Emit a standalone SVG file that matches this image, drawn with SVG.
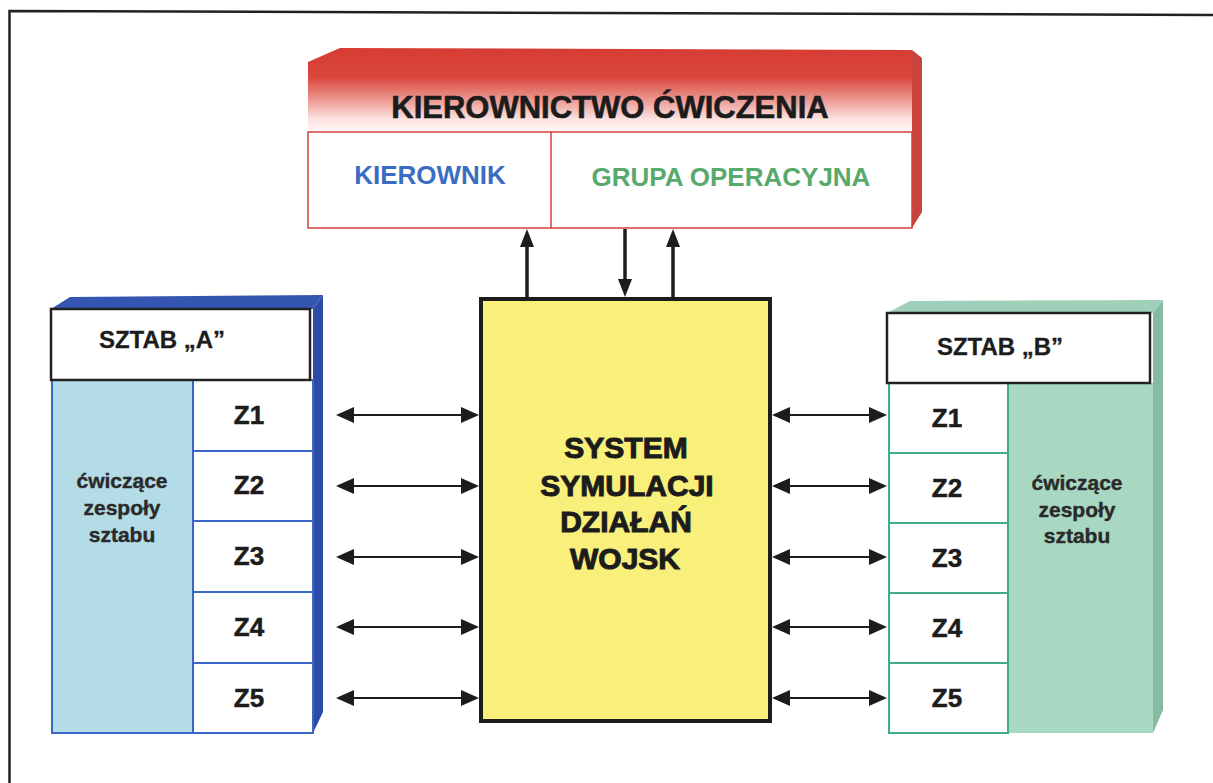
<svg xmlns="http://www.w3.org/2000/svg" width="1213" height="783" viewBox="0 0 1213 783">
<defs>
<style>
.t{font-family:"Liberation Sans",Arial,sans-serif;font-weight:bold;text-anchor:middle;fill:#1c1c1c}
.big{font-size:30px;stroke:#1c1c1c;stroke-width:1}
.title{font-size:31px;stroke:#1c1c1c;stroke-width:0.6}
.z{font-size:26px;stroke:#1c1c1c;stroke-width:0.5}
.hdr{font-size:24px;stroke:#1c1c1c;stroke-width:0.3}
.sub{font-size:21px;fill:#2a2a2a;stroke:#2a2a2a;stroke-width:0.4}
.cellA{fill:#fff;stroke:#3a66c8;stroke-width:2}
.cellB{fill:#fff;stroke:#3fae88;stroke-width:2}
.hbox{fill:#fff;stroke:#222;stroke-width:2.5}
.ah{stroke:#1c1c1c;stroke-width:2;fill:none}
.av{stroke:#1c1c1c;stroke-width:3.5;fill:none}
</style>
<linearGradient id="redg" x1="0" y1="48" x2="0" y2="132" gradientUnits="userSpaceOnUse">
<stop offset="0" stop-color="#d63c33"/>
<stop offset="0.35" stop-color="#da463d"/>
<stop offset="0.62" stop-color="#ec9a93"/>
<stop offset="0.85" stop-color="#fbe4e2"/>
<stop offset="1" stop-color="#fff8f7"/>
</linearGradient>
<marker id="mh" viewBox="0 0 18 16" refX="14" refY="8" markerWidth="18" markerHeight="16" markerUnits="userSpaceOnUse" orient="auto-start-reverse">
<path d="M0,0 L18,8 L0,16 Z" fill="#1c1c1c"/>
</marker>
<marker id="mv" viewBox="0 0 18 14" refX="12" refY="7" markerWidth="18" markerHeight="14" markerUnits="userSpaceOnUse" orient="auto">
<path d="M0,0 L18,7 L0,14 Z" fill="#1c1c1c"/>
</marker>
</defs>
<rect width="1213" height="783" fill="#fff"/>
<path d="M9.5,783 L9.5,11 L1213,15" fill="none" stroke="#222" stroke-width="2.5"/>

<g id="kierownictwo">
<polygon points="308,62 340,48 912,50 912,132 308,132" fill="url(#redg)"/>
<polygon points="912,50 922,58 922,212 912,228" fill="#c6443c"/>
<rect x="308" y="132" width="604" height="96" fill="#fff" stroke="#d3403a" stroke-width="1.5"/>
<line x1="551" y1="132" x2="551" y2="228" stroke="#d3403a" stroke-width="1.5"/>
<text class="t title" x="610" y="118">KIEROWNICTWO ĆWICZENIA</text>
<text class="t" x="430" y="184" font-size="26" style="fill:#3b6cc4">KIEROWNIK</text>
<text class="t" x="731" y="186" font-size="26" style="fill:#58a96c">GRUPA OPERACYJNA</text>
</g>

<g id="system">
<rect x="481" y="299" width="289" height="422" fill="#f8f07a" stroke="#1c1c1c" stroke-width="4"/>
<text class="t big" x="626" y="458">SYSTEM</text>
<text class="t big" x="627" y="496">SYMULACJI</text>
<text class="t big" x="626" y="532">DZIAŁAŃ</text>
<text class="t big" x="625" y="569">WOJSK</text>
</g>

<g id="sztabA">
<polygon points="51,309 70,297 323,295 313,309" fill="#3456b0"/>
<polygon points="313,309 323,295 323,712 313,733" fill="#2c4ba6"/>
<rect x="52" y="380" width="141" height="353" fill="#b4dce6" stroke="#3a66c8" stroke-width="2"/>
<rect class="cellA" x="193" y="380" width="120" height="71"/>
<rect class="cellA" x="193" y="451" width="120" height="70"/>
<rect class="cellA" x="193" y="521" width="120" height="71"/>
<rect class="cellA" x="193" y="592" width="120" height="71"/>
<rect class="cellA" x="193" y="663" width="120" height="70"/>
<rect class="hbox" x="51" y="309" width="259" height="71"/>
<text class="t hdr" x="162" y="348">SZTAB „A”</text>
<text class="t sub" x="122" y="488">ćwiczące</text>
<text class="t sub" x="122" y="515">zespoły</text>
<text class="t sub" x="122" y="542">sztabu</text>
<text class="t z" x="249" y="424">Z1</text>
<text class="t z" x="249" y="494">Z2</text>
<text class="t z" x="249" y="565">Z3</text>
<text class="t z" x="249" y="636">Z4</text>
<text class="t z" x="249" y="707">Z5</text>
</g>

<g id="sztabB">
<polygon points="887,313 910,301 1163,300 1153,313" fill="#9fd0b9"/>
<polygon points="1153,313 1163,300 1163,710 1153,733" fill="#86bba2"/>
<rect x="1008" y="383" width="145" height="350" fill="#a8d8c2"/>
<rect class="cellB" x="889" y="383" width="119" height="70"/>
<rect class="cellB" x="889" y="453" width="119" height="70"/>
<rect class="cellB" x="889" y="523" width="119" height="70"/>
<rect class="cellB" x="889" y="593" width="119" height="70"/>
<rect class="cellB" x="889" y="663" width="119" height="70"/>
<rect class="hbox" x="887" y="313" width="263" height="70"/>
<text class="t hdr" x="1000" y="355">SZTAB „B”</text>
<text class="t sub" x="1077" y="490">ćwiczące</text>
<text class="t sub" x="1077" y="517">zespoły</text>
<text class="t sub" x="1077" y="543">sztabu</text>
<text class="t z" x="947" y="427">Z1</text>
<text class="t z" x="947" y="497">Z2</text>
<text class="t z" x="947" y="567">Z3</text>
<text class="t z" x="947" y="637">Z4</text>
<text class="t z" x="947" y="707">Z5</text>
</g>

<g id="connectors">
<line class="av" x1="527" y1="297" x2="527" y2="235" marker-end="url(#mv)"/>
<line class="av" x1="625" y1="229" x2="625" y2="291" marker-end="url(#mv)"/>
<line class="av" x1="673" y1="297" x2="673" y2="235" marker-end="url(#mv)"/>
<line class="ah" x1="340" y1="415" x2="475" y2="415" marker-start="url(#mh)" marker-end="url(#mh)"/>
<line class="ah" x1="340" y1="486" x2="475" y2="486" marker-start="url(#mh)" marker-end="url(#mh)"/>
<line class="ah" x1="340" y1="557" x2="475" y2="557" marker-start="url(#mh)" marker-end="url(#mh)"/>
<line class="ah" x1="340" y1="627" x2="475" y2="627" marker-start="url(#mh)" marker-end="url(#mh)"/>
<line class="ah" x1="340" y1="698" x2="475" y2="698" marker-start="url(#mh)" marker-end="url(#mh)"/>
<line class="ah" x1="776" y1="415" x2="883" y2="415" marker-start="url(#mh)" marker-end="url(#mh)"/>
<line class="ah" x1="776" y1="486" x2="883" y2="486" marker-start="url(#mh)" marker-end="url(#mh)"/>
<line class="ah" x1="776" y1="557" x2="883" y2="557" marker-start="url(#mh)" marker-end="url(#mh)"/>
<line class="ah" x1="776" y1="627" x2="883" y2="627" marker-start="url(#mh)" marker-end="url(#mh)"/>
<line class="ah" x1="776" y1="698" x2="883" y2="698" marker-start="url(#mh)" marker-end="url(#mh)"/>
</g>
</svg>
